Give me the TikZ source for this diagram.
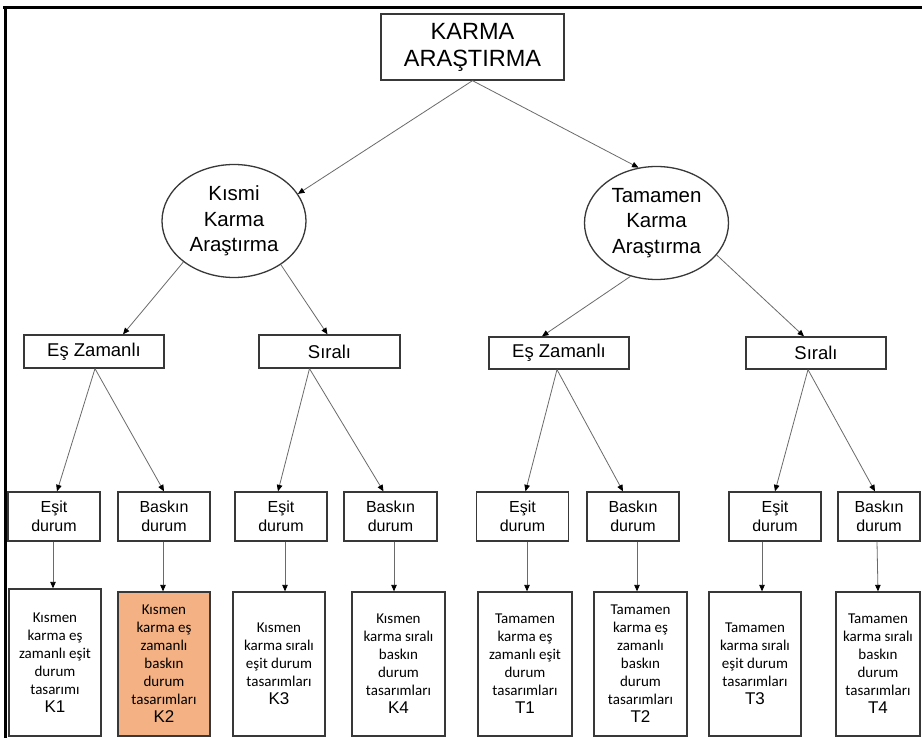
\documentclass[tikz,border=0pt]{standalone}
\usepackage{fontspec}
\setmainfont{Liberation Sans}
\newfontfamily\carlfont{Carlito}
\usetikzlibrary{arrows.meta,shapes.geometric}
\definecolor{boxline}{HTML}{383838}
\definecolor{linkgray}{HTML}{6A6A6A}
\definecolor{hilite}{HTML}{F4B183}
\newcommand{\codelabel}[1]{{\rmfamily\fontsize{17}{18}\selectfont #1}}
\begin{document}
\begin{tikzpicture}[x=1pt,y=-1pt,
  box/.style={draw=boxline,line width=1.3pt,rectangle,inner sep=0pt,align=center},
  oval/.style={draw=boxline,line width=1.3pt,ellipse,inner sep=0pt,align=center,
    minimum width=144pt,minimum height=113pt,font=\fontsize{20.5}{25.5}\selectfont},
  lvtwo/.style={box,minimum width=140pt,minimum height=33pt,font=\fontsize{18.5}{22}\selectfont},
  lvthree/.style={box,minimum width=92pt,minimum height=49pt,font=\fontsize{16}{19}\selectfont},
  design/.style={box,minimum width=92pt,minimum height=146pt,font=\carlfont\fontsize{15}{18}\selectfont},
  arr/.style={draw=linkgray,line width=0.8pt,-{Triangle[length=6.5pt,width=5.5pt,fill=black,color=black]}}
]
\useasboundingbox (0,0) rectangle (922,738);
\fill[white] (0,0) rectangle (922,738);

% frame lines (top and left)
\draw[line width=3pt,black] (3,8) -- (922,8);
\draw[line width=3pt,black] (5,8) -- (5,738);

% root
\node[box,minimum width=183pt,minimum height=66pt,font=\fontsize{23.5}{27}\selectfont] (root) at (472.5,47) {KARMA\\ARAŞTIRMA};

% two families
\node[oval] (kel) at (234,221) {Kısmi\\Karma\\Araştırma};
\node[oval] (ker) at (656.5,223) {Tamamen\\Karma\\Araştırma};

% second level
\node[lvtwo] (ezl) at (94,351.5) {Eş Zamanlı};
\node[lvtwo,minimum width=141pt] (sil) at (329.5,351.5) {Sıralı};
\node[lvtwo,minimum height=32pt] (ezr) at (559,353) {Eş Zamanlı};
\node[lvtwo,minimum height=32pt] (sir) at (816,353) {Sıralı};

% third level
\node[lvthree] (e1) at (54,516.5) {Eşit\\durum};
\node[lvthree] (b1) at (164,516.5) {Baskın\\durum};
\node[lvthree] (e2) at (281,516.5) {Eşit\\durum};
\node[lvthree,minimum width=93pt] (b2) at (390.5,516.5) {Baskın\\durum};
\node[lvthree] (e3) at (522.5,516.5) {Eşit\\durum};
\node[lvthree] (b3) at (633,516.5) {Baskın\\durum};
\node[lvthree] (e4) at (775,516.5) {Eşit\\durum};
\node[lvthree,minimum width=82pt] (b4) at (879,516.5) {Baskın\\durum};

% design boxes
\node[design,minimum height=147pt] (k1) at (55,662.5) {Kısmen\\karma eş\\zamanlı eşit\\durum\\tasarımı\\\codelabel{K1}};
\node[design,fill=hilite,minimum height=144pt] (k2) at (164,664) {Kısmen\\karma eş\\zamanlı\\baskın\\durum\\tasarımları\\\codelabel{K2}};
\node[design,minimum height=144pt] (k3) at (279,664) {Kısmen\\karma sıralı\\eşit durum\\tasarımları\\\codelabel{K3}};
\node[design,minimum width=93pt,minimum height=144pt] (k4) at (398.5,664) {Kısmen\\karma sıralı\\baskın\\durum\\tasarımları\\\codelabel{K4}};
\node[design,minimum width=94pt,minimum height=144pt] (t1) at (525,664) {Tamamen\\karma eş\\zamanlı eşit\\durum\\tasarımları\\\codelabel{T1}};
\node[design,minimum width=93pt,minimum height=144pt] (t2) at (640.5,664) {Tamamen\\karma eş\\zamanlı\\baskın\\durum\\tasarımları\\\codelabel{T2}};
\node[design,minimum height=144pt] (t3) at (755,664) {Tamamen\\karma sıralı\\eşit durum\\tasarımları\\\codelabel{T3}};
\node[design,minimum width=84pt,minimum height=144pt] (t4) at (878,664) {Tamamen\\karma sıralı\\baskın\\durum\\tasarımları\\\codelabel{T4}};

% root to families
\draw[arr] (root.south) -- (kel.23);
\draw[arr] (root.south) -- (ker.108);

% families to second level
\draw[arr] (kel.219) -- ([xshift=29pt]ezl.north);
\draw[arr] (kel.317) -- ([xshift=-2pt]sil.north);
\draw[arr] (ker.244) -- ([xshift=-17pt]ezr.north);
\draw[arr] (ker.332) -- ([xshift=-12pt]sir.north);

% second level to third level
\draw[arr] ([xshift=1pt]ezl.south) -- ([xshift=3pt]e1.north);
\draw[arr] ([xshift=1pt]ezl.south) -- (b1.north);
\draw[arr] ([xshift=-20pt]sil.south) -- ([xshift=-3pt]e2.north);
\draw[arr] ([xshift=-20pt]sil.south) -- ([xshift=-7pt]b2.north);
\draw[arr] ([xshift=-2pt]ezr.south) -- ([xshift=3pt]e3.north);
\draw[arr] ([xshift=-2pt]ezr.south) -- ([xshift=-10pt]b3.north);
\draw[arr] ([xshift=-8pt]sir.south) -- (e4.north);
\draw[arr] ([xshift=-8pt]sir.south) -- ([xshift=-4pt]b4.north);

% third level to design boxes
\draw[arr] ([xshift=-1pt]e1.south) -- ([xshift=-2pt]k1.north);
\draw[arr] ([xshift=-1pt]b1.south) -- ([xshift=-1pt]k2.north);
\draw[arr] ([xshift=4pt]e2.south) -- ([xshift=6pt]k3.north);
\draw[arr] ([xshift=3.5pt]b2.south) -- ([xshift=-4.5pt]k4.north);
\draw[arr] ([xshift=4.5pt]e3.south) -- ([xshift=2pt]t1.north);
\draw[arr] ([xshift=4pt]b3.south) -- ([xshift=-3.5pt]t2.north);
\draw[arr] ([xshift=-13pt]e4.south) -- ([xshift=7pt]t3.north);
\draw[arr] ([xshift=-2pt]b4.south) -- (t4.north);
\end{tikzpicture}
\end{document}
